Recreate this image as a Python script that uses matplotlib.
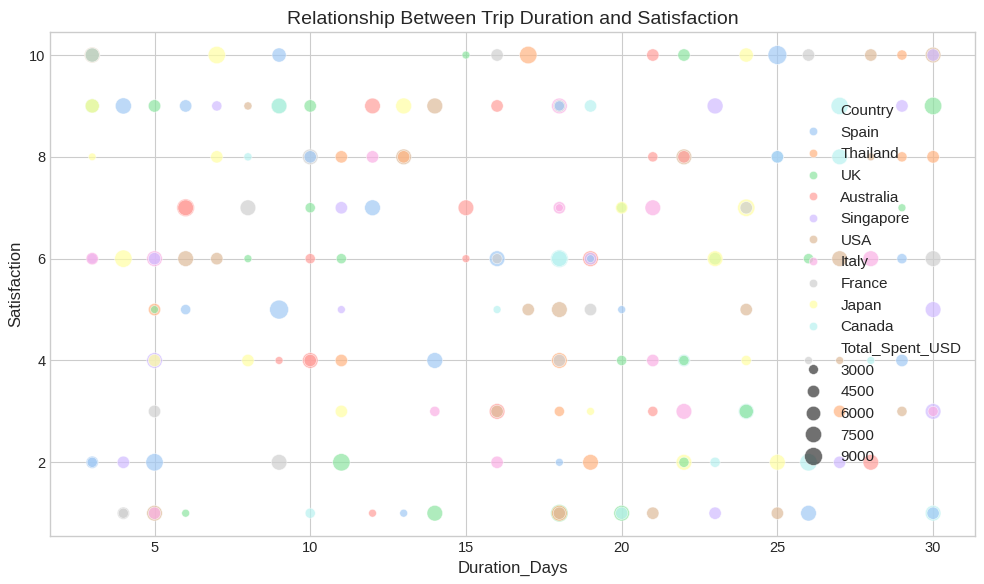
import matplotlib
matplotlib.use('Agg')
import matplotlib.pyplot as plt
import seaborn as sns
import pandas as pd

countries = ['Spain', 'Thailand', 'UK', 'Australia', 'Singapore',
             'USA', 'Italy', 'France', 'Japan', 'Canada']

# one line per satisfaction level (10 down to 1)
duration = [3, 3, 3, 7, 9, 15, 16, 17, 21, 22, 24, 25, 26, 28, 29, 30, 30,
            3, 3, 4, 5, 6, 7, 8, 9, 9, 10, 12, 13, 14, 16, 18, 18, 18, 19, 23, 27, 29, 30,
            3, 7, 8, 10, 10, 11, 12, 13, 13, 21, 22, 22, 25, 25, 27, 28, 29, 30,
            6, 6, 8, 10, 11, 12, 15, 18, 18, 20, 20, 21, 24, 24, 29,
            3, 3, 4, 5, 5, 6, 7, 8, 10, 11, 15, 16, 16, 18, 18, 19, 19, 19, 23, 23, 26, 27, 28, 29, 30,
            5, 5, 6, 9, 11, 16, 17, 18, 19, 20, 24, 30,
            5, 5, 8, 9, 10, 10, 11, 14, 18, 18, 20, 21, 22, 22, 24, 26, 27, 28, 29,
            5, 11, 14, 16, 16, 18, 19, 21, 22, 24, 24, 27, 29, 30, 30,
            3, 3, 4, 5, 9, 11, 16, 18, 19, 22, 22, 23, 25, 26, 27, 28,
            4, 4, 5, 5, 6, 10, 12, 13, 14, 18, 18, 18, 20, 20, 21, 23, 25, 26, 30, 30]

satisfaction = [10] * 17 + [9] * 22 + [8] * 18 + [7] * 15 + [6] * 25 \
    + [5] * 12 + [4] * 19 + [3] * 15 + [2] * 16 + [1] * 20

country = ['USA', 'UK', 'France', 'Japan', 'Spain', 'UK', 'France', 'Thailand', 'Australia',
           'UK', 'Japan', 'Spain', 'France', 'USA', 'Thailand', 'USA', 'Singapore',
           'UK', 'Japan', 'Spain', 'UK', 'Spain', 'Singapore', 'USA', 'UK', 'Canada', 'UK',
           'Australia', 'Japan', 'USA', 'Australia', 'Italy', 'France', 'Spain', 'Canada',
           'Singapore', 'Canada', 'Singapore', 'UK',
           'Japan', 'Japan', 'Canada', 'France', 'Spain', 'Thailand', 'Italy', 'USA', 'Thailand',
           'Australia', 'USA', 'Australia', 'Canada', 'Spain', 'Canada', 'USA', 'Thailand', 'Thailand',
           'Australia', 'Australia', 'France', 'UK', 'Singapore', 'Spain', 'Australia', 'Italy',
           'Italy', 'UK', 'Japan', 'Italy', 'Japan', 'France', 'UK',
           'Singapore', 'Italy', 'Japan', 'Italy', 'Singapore', 'USA', 'USA', 'UK', 'Australia',
           'UK', 'Australia', 'Spain', 'France', 'Canada', 'Canada', 'Australia', 'Singapore',
           'Spain', 'UK', 'Japan', 'UK', 'USA', 'Italy', 'Spain', 'France',
           'Thailand', 'UK', 'Spain', 'Spain', 'Singapore', 'Canada', 'USA', 'USA', 'France',
           'Spain', 'USA', 'Singapore',
           'Singapore', 'Japan', 'Japan', 'Australia', 'Australia', 'Australia', 'Thailand',
           'Spain', 'Thailand', 'France', 'UK', 'Italy', 'Canada', 'UK', 'Japan', 'France',
           'USA', 'Canada', 'Spain',
           'France', 'Japan', 'Italy', 'Australia', 'USA', 'Thailand', 'Japan', 'Australia',
           'Italy', 'Canada', 'UK', 'Thailand', 'USA', 'Singapore', 'Italy',
           'Spain', 'Spain', 'Singapore', 'Spain', 'France', 'UK', 'Italy', 'Spain', 'Thailand',
           'Japan', 'UK', 'Canada', 'Japan', 'Canada', 'Singapore', 'Australia',
           'France', 'France', 'USA', 'Italy', 'UK', 'Canada', 'Australia', 'Spain', 'UK', 'UK',
           'Thailand', 'USA', 'UK', 'Canada', 'USA', 'Singapore', 'USA', 'Spain', 'Canada', 'Spain']

total_spent = [7000, 5800, 5800, 8500, 5800, 2100, 4500, 8600, 4500, 4500, 5800, 9900,
               4500, 4500, 3200, 7000, 4500,
               5800, 5800, 7400, 4600, 4500, 3200, 2200, 7000, 6900, 4500, 7000, 7200, 7100,
               4500, 7000, 4500, 3200, 4500, 7200, 8400, 4500, 8500,
               2000, 4500, 2200, 7000, 4500, 4500, 4500, 7000, 4500, 3200, 7000, 4500, 4500,
               4500, 7000, 2100, 3200, 4600,
               8800, 7000, 7000, 3200, 4500, 7100, 7000, 4500, 2100, 3200, 4500, 7000, 8500,
               4500, 2100,
               3200, 4500, 8500, 7000, 4500, 7000, 4500, 2100, 3200, 3200, 2100, 7000, 3200,
               8800, 7000, 7000, 4500, 2100, 4500, 7000, 3200, 7000, 7000, 3200, 7000,
               4500, 2100, 3200, 10000, 2100, 2100, 4500, 7000, 4500, 2100, 4500, 7000,
               7000, 4500, 4500, 2100, 7000, 4500, 4500, 7100, 7000, 4500, 3200, 4500, 4500,
               3200, 3200, 2100, 2100, 2100, 4500,
               4500, 4500, 3200, 7000, 4500, 3200, 2100, 3200, 7000, 7000, 5800, 4500, 3200,
               7000, 3200,
               4500, 3200, 4500, 8500, 7000, 8500, 4500, 2100, 7000, 7000, 3200, 3200, 7000,
               8500, 4500, 7000,
               4500, 3200, 7000, 4500, 2100, 3200, 2100, 2100, 7000, 8500, 7000, 4500, 7000,
               4500, 4500, 4500, 4500, 7000, 7000, 4500]

df = pd.DataFrame({'Duration_Days': duration, 'Satisfaction': satisfaction,
                   'Country': country, 'Total_Spent_USD': total_spent})

plt.style.use('seaborn-v0_8-whitegrid')
fig, ax = plt.subplots(figsize=(9.84, 5.84), dpi=100)
sns.scatterplot(data=df, x='Duration_Days', y='Satisfaction', hue='Country',
                hue_order=countries, size='Total_Spent_USD', sizes=(30, 185),
                palette='pastel', alpha=0.7, ax=ax)
sns.move_legend(ax, 'center right', fontsize=11)
ax.set_title('Relationship Between Trip Duration and Satisfaction', fontsize=14)
ax.set_xlabel('Duration_Days', fontsize=12)
ax.set_ylabel('Satisfaction', fontsize=12)
ax.tick_params(labelsize=10.5)
for side in ax.spines.values():
    side.set_visible(True)
    side.set_color('#cccccc')
fig.subplots_adjust(left=0.051, right=0.991, top=0.945, bottom=0.082)
plt.savefig('out.png')
